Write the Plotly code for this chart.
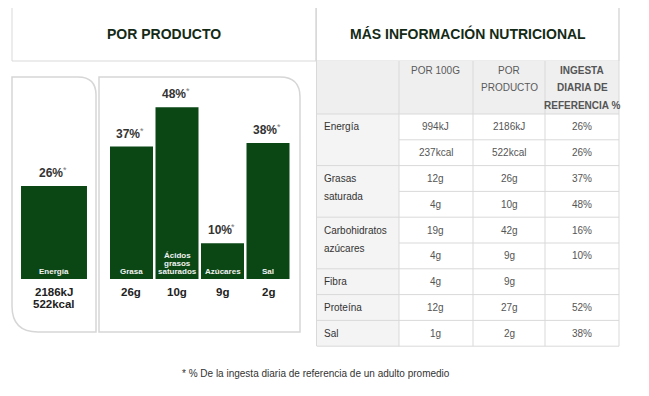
import plotly.graph_objects as go

# ---------------- data ----------------
energy_cat = ["Energía"]
energy_pct = [26]
energy_amount = ["2186kJ", "522kcal"]

nutr_cats = ["Grasa", "Ácidos grasos saturados", "Azúcares", "Sal"]
nutr_pct = [37, 48, 10, 38]
nutr_amount = ["26g", "10g", "9g", "2g"]

left_title = "POR PRODUCTO"
right_title = "MÁS INFORMACIÓN NUTRICIONAL"
footnote = "* % De la ingesta diaria de referencia de un adulto promedio"

header_lines = [["POR 100G"], ["POR", "PRODUCTO"], ["INGESTA", "DIARIA DE", "REFERENCIA %"]]
table_labels = [["Energía"], ["Grasas", "saturada"], ["Carbohidratos", "azúcares"],
                ["Fibra"], ["Proteína"], ["Sal"]]
per_100g = [["994kJ", "237kcal"], ["12g", "4g"], ["19g", "4g"], ["4g"], ["12g"], ["1g"]]
per_product = [["2186kJ", "522kcal"], ["26g", "10g"], ["42g", "9g"], ["9g"], ["27g"], ["2g"]]
ref_intake = [["26%", "26%"], ["37%", "48%"], ["16%", "10%"], [""], ["52%"], ["38%"]]

# ---------------- layout helpers ----------------
PAGE_W, PAGE_H = 649, 396
OFF = 8                      # page body margin
W, H = PAGE_W - 2 * OFF, PAGE_H - 2 * OFF
FONT = "Arial, Liberation Sans, sans-serif"
GREEN = "#0a4714"
LINE = "#d9d9d9"


def X(p):
    return (p - OFF) / W


def Y(p):
    return 1 - (p - OFF) / H


shapes = []
annotations = []


def rect(x0, y0, x1, y1, fill=None, line=LINE, width=1):
    shapes.append(dict(type="rect", xref="paper", yref="paper",
                       x0=X(x0), x1=X(x1), y0=Y(y1), y1=Y(y0),
                       fillcolor=fill if fill else "rgba(0,0,0,0)",
                       line=dict(color=line, width=width) if line else dict(width=0),
                       layer="below"))


def hline(x0, x1, y, color=LINE):
    shapes.append(dict(type="line", xref="paper", yref="paper",
                       x0=X(x0), x1=X(x1), y0=Y(y), y1=Y(y),
                       line=dict(color=color, width=1), layer="below"))


def vline(x, y0, y1, color=LINE):
    shapes.append(dict(type="line", xref="paper", yref="paper",
                       x0=X(x), x1=X(x), y0=Y(y0), y1=Y(y1),
                       line=dict(color=color, width=1), layer="below"))


def text(x, y, s, size=10, color="#333", bold=False, xanchor="center"):
    if not s:
        return
    annotations.append(dict(xref="paper", yref="paper", x=X(x), y=Y(y),
                            text=f"<b>{s}</b>" if bold else s, showarrow=False,
                            xanchor=xanchor, yanchor="middle",
                            font=dict(family=FONT, size=size, color=color)))


def path(pts):
    d = ""
    for p in pts:
        if p[0] == "Q":
            d += f" Q {X(p[1])},{Y(p[2])} {X(p[3])},{Y(p[4])}"
        else:
            d += f" {p[0]} {X(p[1])},{Y(p[2])}"
    return d + " Z"


# ---------------- headers ----------------
rect(12, 7, 316, 61)
rect(316, 7, 619, 61)
text(164, 34, left_title, size=14, color="#142a16", bold=True)
text(468, 34, right_title, size=14, color="#142a16", bold=True)

# ---------------- left panels ----------------
r1, r2, r3 = 18, 26, 20
shapes.append(dict(type="path", xref="paper", yref="paper", layer="below",
                   line=dict(color="#d6d6d6", width=1.5),
                   path=path([("M", 12, 77), ("L", 96 - r1, 77), ("Q", 96, 77, 96, 77 + r1),
                              ("L", 96, 332), ("L", 12 + r2, 332), ("Q", 12, 332, 12, 332 - r2)])))
shapes.append(dict(type="path", xref="paper", yref="paper", layer="below",
                   line=dict(color="#d6d6d6", width=1.5),
                   path=path([("M", 99, 77), ("L", 300 - r3, 77), ("Q", 300, 77, 300, 77 + r3),
                              ("L", 300, 332), ("L", 99, 332)])))

# ---------------- table ----------------
col_x = [317, 399, 473, 545, 619]
head_top, head_bot = 61, 114
row_h = 25.8
n_rows = sum(len(v) for v in per_100g)
tab_bot = head_bot + row_h * n_rows

rect(col_x[0], head_top, col_x[-1], head_bot, fill="#efefef", line=None)
rect(col_x[0], head_bot, col_x[1], tab_bot, fill="#f4f4f4", line=None)

for ci, lines in enumerate(header_lines):
    cx = (col_x[ci + 1] + col_x[ci + 2]) / 2
    for li, s in enumerate(lines):
        text(cx, 70 + 17.5 * li, s, size=10,
             color="#555" if ci == 2 else "#5a5a5a", bold=(ci == 2))

y = head_bot
hline(col_x[0], col_x[-1], y)
for gi, lab in enumerate(table_labels):
    sub = len(per_100g[gi])
    for li, s in enumerate(lab):
        text(322, y + row_h / 2 + 18 * li, s, size=10, color="#333", xanchor="left")
    for si in range(sub):
        yc = y + row_h * si + row_h / 2
        for ci, col in enumerate([per_100g, per_product, ref_intake]):
            cx = (col_x[ci + 1] + col_x[ci + 2]) / 2
            text(cx, yc, col[gi][si], size=10, color="#555")
        if si < sub - 1:
            hline(col_x[1], col_x[-1], y + row_h * (si + 1))
    y += row_h * sub
    hline(col_x[0], col_x[-1], y)

vline(316.5, 7, tab_bot)
vline(619, 7, tab_bot)
for cx in col_x[1:-1]:
    vline(cx, head_top, tab_bot)

# ---------------- footnote ----------------
text(316, 373, footnote, size=10, color="#333")

# ---------------- bars ----------------
base_px, top_px, ymax = 279, 100, 50
ydom = [Y(base_px), Y(top_px)]

fig = go.Figure()
fig.add_trace(go.Bar(x=energy_cat, y=energy_pct, marker=dict(color=GREEN, line=dict(width=0)),
                     xaxis="x", yaxis="y", hoverinfo="skip", showlegend=False))
fig.add_trace(go.Bar(x=nutr_cats, y=nutr_pct, marker=dict(color=GREEN, line=dict(width=0)),
                     xaxis="x2", yaxis="y2", hoverinfo="skip", showlegend=False))


def bar_labels(cats, pcts, amounts, xr, yr, multi=False):
    for i, (c, v) in enumerate(zip(cats, pcts)):
        annotations.append(dict(xref=xr, yref=yr, x=c, y=v, yshift=13, xshift=-3,
                                showarrow=False, text=f"<b>{v}%</b>",
                                font=dict(family=FONT, size=12, color="#333"),
                                yanchor="middle"))
        annotations.append(dict(xref=xr, yref=yr, x=c, y=v, yshift=16, xshift=10.5,
                                showarrow=False, text="*",
                                font=dict(family=FONT, size=9, color="#777"),
                                yanchor="middle"))
        words = c.split(" ")
        for k, w in enumerate(words):
            annotations.append(dict(xref=xr, yref=yr, x=c, y=0,
                                    yshift=8 + 8 * (len(words) - 1 - k), showarrow=False,
                                    text=f"<b>{w}</b>", yanchor="middle",
                                    font=dict(family=FONT, size=8, color="#f2f2f2")))
        amt = amounts if multi else [amounts[i]]
        for k, a in enumerate(amt):
            annotations.append(dict(xref=xr, yref=yr, x=c, y=0, yshift=-13 - 12 * k,
                                    showarrow=False, text=f"<b>{a}</b>", yanchor="middle",
                                    font=dict(family=FONT, size=11.5, color="#222")))


bar_labels(energy_cat, energy_pct, energy_amount, "x", "y", multi=True)
bar_labels(nutr_cats, nutr_pct, nutr_amount, "x2", "y2")

ax_common = dict(showgrid=False, zeroline=False, showticklabels=False, ticks="",
                 showline=False, fixedrange=True)
fig.update_layout(
    width=W, height=H, margin=dict(l=0, r=0, t=0, b=0),
    paper_bgcolor="white", plot_bgcolor="rgba(0,0,0,0)",
    bargap=0.055, showlegend=False,
    xaxis=dict(domain=[X(19.1), X(88.9)], anchor="y", type="category", **ax_common),
    yaxis=dict(domain=ydom, range=[0, ymax], anchor="x", visible=False, fixedrange=True),
    xaxis2=dict(domain=[X(108.75), X(290.75)], anchor="y2", type="category", **ax_common),
    yaxis2=dict(domain=ydom, range=[0, ymax], anchor="x2", visible=False, fixedrange=True),
    shapes=shapes, annotations=annotations,
    font=dict(family=FONT),
)

fig.write_html("out.html", config=dict(displayModeBar=False))
